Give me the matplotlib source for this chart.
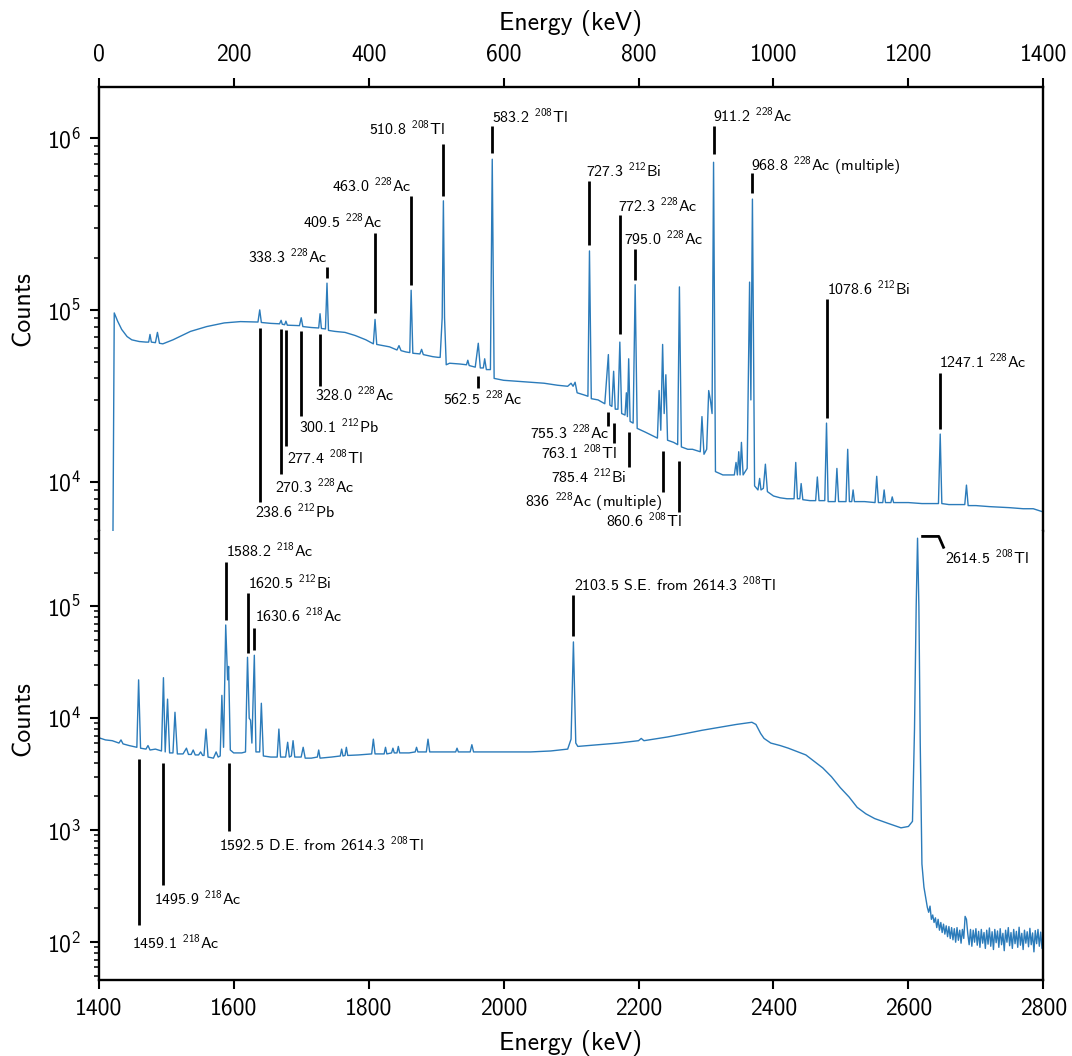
import matplotlib.pyplot as plt

plt.rcParams['font.family'] = 'cmss10'
plt.rcParams['mathtext.fontset'] = 'custom'
plt.rcParams['mathtext.rm'] = 'cmss10'
plt.rcParams['mathtext.it'] = 'cmss10'
plt.rcParams['mathtext.bf'] = 'cmss10'
plt.rcParams['mathtext.sf'] = 'cmss10'
plt.rcParams['axes.unicode_minus'] = False

# spectrum 0 - 1400 keV (keV, counts)
low_energy = [
    21, 23, 28, 34, 42, 49, 60, 70, 74, 76, 78, 84, 87, 90, 95, 110, 136, 160, 186, 210,
    236, 238.6, 241, 255, 268, 270.3, 272, 275.5, 277.4, 279.5, 297.5, 300.1, 302.5, 315,
    326, 328.0, 330, 336, 338.3, 340.5, 350, 365, 380, 396, 407, 409.5, 412, 431,
    442, 445, 448, 455, 461, 463.0, 465.5, 476, 478.5, 481, 495, 503,
    506, 509, 510.8, 512.5, 515, 520, 535, 545, 547, 549, 558, 562.5, 565.5,
    570, 572, 574.5, 580.5, 583.2, 586, 600, 620, 640, 660, 680,
    695, 700, 703, 706, 709, 720, 725, 727.3, 730, 740,
    750, 755.3, 757.5, 760.5, 763.1, 765.5, 769.5, 772.3, 775,
    780, 782, 783.5, 785.4, 787.5, 792, 795.0, 798, 810, 824,
    828, 830.5, 833, 835.7, 838, 840.5, 843, 852, 858, 860.6, 863.5, 873, 880,
    891.5, 894, 897, 901, 904, 906.5, 909, 911.2, 914, 925, 935,
    942, 944.5, 946.5, 948.5, 950.5, 952.5, 955, 961, 964.6, 966.5, 968.8, 972,
    977, 979.5, 981.5, 985, 988, 991, 1000, 1010, 1020,
    1030.5, 1033, 1035.5, 1039, 1041, 1043.5, 1054, 1062.5, 1065, 1067.5,
    1076, 1078.6, 1081, 1091.5, 1094, 1096.5, 1107.5, 1110, 1112.5, 1116, 1118, 1120,
    1135, 1150.5, 1153, 1155.5, 1162, 1164, 1166, 1174, 1176, 1178, 1200, 1220,
    1244.5, 1247.1, 1249.5, 1260, 1283.5, 1286, 1288.5, 1300, 1320, 1350, 1370, 1385, 1400,
]
low_counts = [
    4300, 96000, 86000, 77000, 70000, 67000, 65500, 65000, 65000, 72000, 65000, 64500, 74000, 64000, 63500, 67000, 75000, 80000, 84000, 85500,
    85000, 100000, 84500, 83500, 83000, 87000, 82500, 82000, 86000, 81500, 81000, 90000, 80000, 79000,
    78500, 95000, 78000, 77500, 143000, 76000, 75000, 74000, 71000, 67000, 63500, 88000, 63000, 61000,
    58500, 62000, 58000, 57000, 56500, 130000, 56000, 55500, 59000, 55000, 53500, 53000,
    53000, 90000, 430000, 90000, 48000, 49000, 48500, 48000, 51000, 47500, 46500, 64000, 46000,
    46000, 52000, 45000, 45000, 750000, 40000, 39000, 38500, 38000, 37500, 36500,
    36000, 37500, 36000, 38000, 33000, 32000, 31500, 220000, 30500, 30000,
    28500, 55000, 28000, 27500, 44000, 26500, 26500, 65000, 25000,
    24500, 33000, 24000, 52000, 22500, 22000, 140000, 20500, 19500, 18300,
    18000, 34000, 20000, 63000, 25000, 42000, 17500, 17000, 16500, 136000, 16000, 15500, 15500,
    15000, 24000, 14500, 15500, 34000, 30000, 25000, 720000, 11500, 11000, 11000,
    11000, 13000, 11000, 15000, 11000, 17000, 11000, 12000, 145000, 30000, 440000, 9500,
    9000, 10500, 9000, 9200, 12700, 8800, 8300, 8100, 8000,
    8000, 13000, 8000, 8000, 9800, 7900, 7800, 7800, 10700, 7800,
    7800, 22000, 7700, 7700, 12000, 7700, 7700, 15500, 7700, 7700, 9000, 7700,
    7700, 7600, 10800, 7600, 7600, 9000, 7600, 7600, 8200, 7600, 7600, 7500,
    7500, 19000, 7500, 7400, 7400, 9600, 7300, 7300, 7200, 7100, 7000, 7000, 6700,
]

# spectrum 1400 - 2800 keV
high_energy = [
    1400, 1410, 1420, 1430, 1433, 1436, 1445, 1456.5, 1459.1, 1462, 1470, 1473, 1476, 1484,
    1493, 1495.9, 1498.5, 1502, 1505, 1510, 1513, 1516.5, 1525, 1530, 1533, 1537, 1540, 1543,
    1548, 1551, 1554, 1556, 1559, 1562, 1570, 1574, 1577,
    1580, 1582.5, 1585, 1588.2, 1591, 1592.5, 1595, 1600, 1612,
    1617.5, 1620.5, 1623, 1625, 1627, 1630.6, 1633, 1638.5, 1641, 1644, 1655,
    1664.5, 1667, 1669.5, 1677, 1680, 1682.5, 1685.5, 1688, 1690.5, 1700, 1703, 1706, 1715,
    1724, 1726, 1728, 1745, 1758, 1760, 1762, 1765, 1767, 1769, 1785,
    1804.5, 1807, 1809.5, 1823, 1825, 1827, 1834, 1836, 1838, 1842, 1844, 1846, 1860,
    1869, 1871, 1873, 1885.5, 1888, 1890.5, 1910, 1929, 1931, 1933, 1950.5, 1953, 1955.5,
    1980, 2010, 2040, 2070, 2095, 2100, 2103.5, 2107, 2110, 2140, 2170, 2200, 2204, 2208,
    2243, 2270, 2294, 2320, 2345, 2368, 2374, 2381, 2386, 2396, 2410, 2422, 2448, 2463,
    2473, 2486, 2499, 2512, 2524, 2537, 2550, 2570, 2589, 2600,
    2606, 2609, 2611.5, 2613.5, 2615.5, 2617.5, 2620, 2623,
    2626, 2628, 2630, 2632, 2634, 2636, 2638, 2640, 2642, 2644, 2646, 2648, 2650, 2652,
    2654, 2656, 2658, 2660, 2662, 2664, 2666, 2668, 2670, 2672, 2674, 2676, 2678, 2680,
    2682, 2684, 2686, 2688, 2690, 2692, 2694, 2696, 2698, 2700, 2702, 2704, 2706, 2708,
    2710, 2712, 2714, 2716, 2718, 2720, 2722, 2724, 2726, 2728, 2730, 2732, 2734, 2736,
    2738, 2740, 2742, 2744, 2746, 2748, 2750, 2752, 2754, 2756, 2758, 2760, 2762, 2764,
    2766, 2768, 2770, 2772, 2774, 2776, 2778, 2780, 2782, 2784, 2786, 2788, 2790, 2792,
    2794, 2796, 2798, 2800,
]
high_counts = [
    6700, 6400, 6300, 6000, 6400, 5900, 5700, 5500, 22000, 5400, 5300, 5700, 5200, 5300,
    5100, 23000, 5000, 14800, 4900, 4900, 11300, 4800, 4800, 5400, 4750, 4750, 5200, 4700,
    4700, 5000, 4650, 4650, 8000, 4500, 4400, 5000, 4500,
    4600, 16000, 5500, 68000, 22000, 29000, 5200, 4900, 4900,
    5000, 35000, 10000, 9600, 6000, 36500, 5000, 5000, 13600, 4600, 4500,
    4500, 8000, 4500, 4500, 6100, 4500, 4600, 6300, 4500, 4500, 5500, 4400, 4400,
    4500, 5200, 4400, 4500, 4600, 5300, 4600, 4650, 5500, 4650, 4700,
    4800, 6500, 4800, 4800, 5500, 4800, 4900, 5400, 4900, 4900, 5600, 4900, 4900,
    5000, 5500, 5000, 5000, 6500, 5000, 5000, 5000, 5400, 5000, 5000, 5800, 5000,
    5000, 5000, 5000, 5100, 5300, 6500, 48000, 6000, 5600, 5800, 6000, 6300, 6600, 6300,
    6800, 7300, 7800, 8300, 8800, 9200, 8800, 7300, 6600, 6000, 5700, 5400, 4700, 4000,
    3600, 3000, 2400, 1980, 1600, 1400, 1270, 1150, 1050, 1080,
    1200, 8000, 100000, 405000, 100000, 6000, 500, 310,
    240, 205, 185, 210, 160, 175, 150, 165, 135, 160, 128, 150, 122, 145,
    118, 140, 112, 138, 108, 135, 105, 132, 100, 135, 104, 128, 98, 130,
    108, 170, 160, 118, 95, 130, 92, 128, 100, 132, 94, 125, 90, 130,
    98, 122, 88, 128, 96, 134, 92, 124, 86, 130, 99, 126, 90, 132,
    95, 120, 84, 128, 100, 135, 93, 122, 88, 130, 97, 125, 90, 136,
    94, 120, 86, 128, 98, 124, 91, 133, 95, 121, 82, 127, 97, 130,
    92, 123, 88, 118,
]

# peak labels
low_above_energy = [338.3, 409.5, 463.0, 510.8, 583.2, 727.3, 772.3, 795.0, 911.2, 968.8, 1078.6, 1247.1]
low_above_label = [
    '338.3 $^{228}$Ac', '409.5 $^{228}$Ac', '463.0 $^{228}$Ac', '510.8 $^{208}$Tl',
    '583.2 $^{208}$Tl', '727.3 $^{212}$Bi', '772.3 $^{228}$Ac', '795.0 $^{228}$Ac',
    '911.2 $^{228}$Ac', '968.8 $^{228}$Ac (multiple)', '1078.6 $^{212}$Bi', '1247.1 $^{228}$Ac',
]
low_below_energy = [238.6, 270.3, 277.4, 300.1, 328.0, 562.5, 755.3, 763.1, 785.4, 836, 860.6]
low_below_label = [
    '238.6 $^{212}$Pb', '270.3 $^{228}$Ac', '277.4 $^{208}$Tl', '300.1 $^{212}$Pb',
    '328.0 $^{228}$Ac', '562.5 $^{228}$Ac', '755.3 $^{228}$Ac', '763.1 $^{208}$Tl',
    '785.4 $^{212}$Bi', '836 $^{228}$Ac (multiple)', '860.6 $^{208}$Tl',
]
high_label_energy = [1588.2, 1620.5, 1630.6, 2103.5, 1459.1, 1495.9, 1592.5]
high_label = [
    '1588.2 $^{218}$Ac', '1620.5 $^{212}$Bi', '1630.6 $^{218}$Ac',
    '2103.5 S.E. from 2614.3 $^{208}$Tl',
    '1459.1 $^{218}$Ac', '1495.9 $^{218}$Ac', '1592.5 D.E. from 2614.3 $^{208}$Tl',
]
tl_label = '2614.5 $^{208}$Tl'

# where each marker line and its text sit: (line lo, line hi, text x, text y, ha)
low_above_place = [
    (1.53e5, 1.77e5, 339.5, 1.87e5, 'right'),
    (9.6e4, 2.79e5, 420, 3.0e5, 'right'),
    (1.4e5, 4.56e5, 463.5, 4.87e5, 'right'),
    (4.56e5, 9.2e5, 513, 1.04e6, 'right'),
    (8.1e5, 1.17e6, 583.2, 1.22e6, 'left'),
    (2.38e5, 5.6e5, 721.5, 5.95e5, 'left'),
    (7.2e4, 3.54e5, 769, 3.73e5, 'left'),
    (1.49e5, 2.25e5, 779, 2.38e5, 'left'),
    (8.0e5, 1.17e6, 911, 1.24e6, 'left'),
    (4.8e5, 6.2e5, 967, 6.4e5, 'left'),
    (2.35e4, 1.16e5, 1078.6, 1.22e5, 'left'),
    (2.03e4, 4.3e4, 1246, 4.6e4, 'left'),
]
low_below_place = [
    (7.7e3, 7.9e4, 231, 6.2e3, 'left'),
    (1.11e4, 7.75e4, 261, 8.7e3, 'left'),
    (1.62e4, 7.66e4, 279, 1.27e4, 'left'),
    (2.41e4, 7.5e4, 297, 1.94e4, 'left'),
    (3.6e4, 7.2e4, 321, 2.95e4, 'left'),
    (3.54e4, 4.15e4, 510, 2.83e4, 'left'),
    (2.11e4, 2.54e4, 757, 1.79e4, 'right'),
    (1.69e4, 2.19e4, 768, 1.36e4, 'right'),
    (1.22e4, 1.95e4, 781.6, 9.86e3, 'right'),
    (8.7e3, 1.52e4, 836, 7.15e3, 'right'),
    (6.7e3, 1.32e4, 863.4, 5.47e3, 'right'),
]
high_place = [
    (7.6e4, 2.48e5, 1588.5, 2.76e5, 'left'),
    (3.83e4, 1.30e5, 1621.8, 1.44e5, 'left'),
    (4.05e4, 6.45e4, 1631.8, 7.24e4, 'left'),
    (5.4e4, 1.25e5, 2104, 1.37e5, 'left'),
    (142, 4.3e3, 1450, 88, 'left'),
    (323, 3.97e3, 1482.5, 214, 'left'),
    (990, 3.97e3, 1578.6, 662, 'left'),
]
tl_hook_energy = [2621, 2645, 2652]
tl_hook_counts = [4.2e5, 4.2e5, 3.36e5]
tl_text_pos = (2653.7, 2.4e5)

BLUE = '#2b7bba'
TICK_FS = 17
LABEL_FS = 18.5
ANN_FS = 11.5


def style_axis(ax):
    ax.set_yscale('log')
    for side in ['left', 'right', 'top', 'bottom']:
        ax.spines[side].set_linewidth(1.7)
    ax.tick_params(which='major', length=6.5, width=1.5, labelsize=TICK_FS, pad=6)
    ax.tick_params(which='minor', length=3.5, width=1.1)
    ax.tick_params(axis='y', which='both', right=False)


def mark_peaks(ax, energies, labels, places):
    for energy, label, (lo, hi, tx, ty, ha) in zip(energies, labels, places):
        ax.plot([energy, energy], [lo, hi], color='black', lw=2.0,
                solid_capstyle='butt')
        ax.text(tx, ty, label, ha=ha, va='baseline', fontsize=ANN_FS)


fig = plt.figure(figsize=(10.72, 10.56), dpi=100)
ax_top = fig.add_axes([0.0921, 0.4972, 0.8812, 0.4204])
ax_bot = fig.add_axes([0.0921, 0.0720, 0.8812, 0.4252])

# upper half: 0 - 1400 keV
ax_top.plot(low_energy, low_counts, color=BLUE, lw=1.0)
style_axis(ax_top)
ax_top.set_xlim(0, 1400)
ax_top.set_ylim(5.2e3, 1.97e6)
ax_top.xaxis.tick_top()
ax_top.xaxis.set_label_position('top')
ax_top.spines['bottom'].set_visible(False)
ax_top.set_xticks(range(0, 1401, 200))
ax_top.tick_params(axis='x', pad=9)
ax_top.set_xlabel('Energy (keV)', fontsize=LABEL_FS, labelpad=10)
ax_top.set_ylabel('Counts', fontsize=LABEL_FS)
ax_top.yaxis.set_label_coords(-0.068, 0.5)
mark_peaks(ax_top, low_above_energy, low_above_label, low_above_place)
mark_peaks(ax_top, low_below_energy, low_below_label, low_below_place)

# lower half: 1400 - 2800 keV
ax_bot.plot(high_energy, high_counts, color=BLUE, lw=1.0)
style_axis(ax_bot)
ax_bot.set_xlim(1400, 2800)
ax_bot.set_ylim(46, 4.7e5)
ax_bot.spines['top'].set_visible(False)
ax_bot.tick_params(axis='x', which='both', top=False)
ax_bot.set_xticks(range(1400, 2801, 200))
ax_bot.set_xlabel('Energy (keV)', fontsize=LABEL_FS, labelpad=8)
ax_bot.set_ylabel('Counts', fontsize=LABEL_FS)
ax_bot.yaxis.set_label_coords(-0.068, 0.582)
mark_peaks(ax_bot, high_label_energy, high_label, high_place)
ax_bot.plot(tl_hook_energy, tl_hook_counts, color='black', lw=2.0)
ax_bot.text(tl_text_pos[0], tl_text_pos[1], tl_label, ha='left', va='baseline',
            fontsize=ANN_FS)

fig.savefig('out.png', dpi=100)
